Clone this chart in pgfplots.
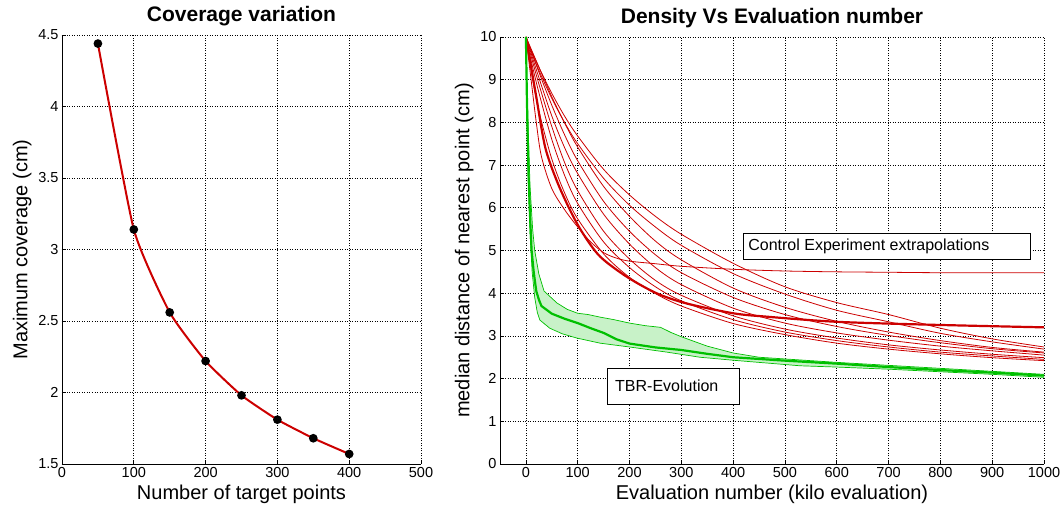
\documentclass[border=0pt]{standalone}
\usepackage{fontspec}
\setmainfont{Liberation Sans}
\usepackage{pgfplots}
\pgfplotsset{compat=1.18}
\definecolor{cred}{RGB}{204,0,0}
\definecolor{cgreen}{RGB}{0,192,0}
\definecolor{cfill}{RGB}{200,242,200}
\pgfplotsset{mystyle/.style={
  scale only axis,
  axis x line*=bottom, axis y line*=left,
  axis line style={-, black, line width=0.8pt},
  tick align=inside, major tick length=4pt,
  tick style={black, line width=0.6pt},
  grid=major,
  major grid style={black, line width=0.6pt, dash pattern=on 1pt off 1.5pt},
  tick label style={font=\fontsize{14.5}{16}\selectfont},
  label style={font=\fontsize{20}{22}\selectfont},
  title style={font=\bfseries\fontsize{21}{24}\selectfont},
  /pgf/number format/assume math mode=true,
  /pgf/number format/1000 sep={},
  scaled ticks=false,
}}
\begin{document}
\begin{tikzpicture}
\useasboundingbox (0,0) rectangle (1063pt,518pt);
\begin{axis}[mystyle, at={(62pt,54pt)}, anchor=south west,
  width=359pt, height=429pt,
  xmin=0, xmax=500, ymin=1.5, ymax=4.5,
  xtick={0,100,200,300,400,500}, ytick={1.5,2,2.5,3,3.5,4,4.5},
  title={Coverage variation},
  xlabel={Number of target points},
  ylabel={Maximum coverage (cm)}]
\addplot[cred, line width=2pt, smooth, tension=0.3, mark=*, mark size=3.3pt, mark options={draw=black, fill=black}]
 coordinates {(50,4.44) (100,3.14) (150,2.56) (200,2.22) (250,1.98) (300,1.81) (350,1.68) (400,1.57)};
\end{axis}
\begin{axis}[mystyle, at={(500pt,54pt)}, anchor=south west,
  width=544pt, height=427pt,
  xmin=-50, xmax=1000, ymin=0, ymax=10,
  xtick={0,100,200,300,400,500,600,700,800,900,1000},
  ytick={0,1,2,3,4,5,6,7,8,9,10},
  title={Density Vs Evaluation number},
  xlabel={Evaluation number (kilo evaluation)},
  ylabel={median distance of nearest point (cm)}]
% thin red extrapolations
\addplot[cred, line width=0.8pt, smooth] coordinates {(0,10) (10,9.70) (25,9.29) (50,8.68) (75,8.14) (100,7.68) (150,6.90) (200,6.30) (250,5.80) (300,5.38) (400,4.70) (500,4.15) (600,3.78) (700,3.50) (800,3.18) (900,2.93) (1000,2.74)};
\addplot[cred, line width=0.8pt, smooth] coordinates {(0,10) (10,9.67) (25,9.22) (50,8.56) (75,7.99) (100,7.50) (150,6.69) (200,6.06) (250,5.55) (300,5.12) (400,4.46) (500,3.98) (600,3.60) (700,3.33) (800,3.06) (900,2.86) (1000,2.69)};
\addplot[cred, line width=0.8pt, smooth] coordinates {(0,10) (10,9.72) (25,9.30) (50,8.60) (75,7.98) (100,7.42) (150,6.50) (200,5.80) (250,5.22) (300,4.78) (400,4.12) (500,3.67) (600,3.34) (700,3.09) (800,2.89) (900,2.73) (1000,2.62)};
\addplot[cred, line width=0.8pt, smooth] coordinates {(0,10) (10,9.68) (25,9.18) (50,8.40) (75,7.70) (100,7.10) (150,6.15) (200,5.45) (250,4.90) (300,4.48) (400,3.90) (500,3.50) (600,3.22) (700,3.01) (800,2.84) (900,2.70) (1000,2.60)};
\addplot[cred, line width=0.8pt, smooth] coordinates {(0,10) (10,9.62) (25,9.05) (50,8.15) (75,7.40) (100,6.80) (150,5.85) (200,5.15) (250,4.60) (300,4.20) (400,3.65) (500,3.30) (600,3.07) (700,2.90) (800,2.76) (900,2.65) (1000,2.55)};
\addplot[cred, line width=0.8pt, smooth] coordinates {(0,10) (10,9.55) (25,8.90) (50,7.90) (75,7.05) (100,6.40) (150,5.45) (200,4.80) (250,4.30) (300,3.95) (400,3.47) (500,3.16) (600,2.95) (700,2.79) (800,2.67) (900,2.57) (1000,2.49)};
\addplot[cred, line width=0.8pt, smooth] coordinates {(0,10) (10,9.45) (25,8.70) (50,7.60) (75,6.75) (100,6.10) (150,5.20) (200,4.60) (250,4.15) (300,3.82) (400,3.38) (500,3.09) (600,2.89) (700,2.74) (800,2.62) (900,2.53) (1000,2.45)};
\addplot[cred, line width=0.8pt, smooth] coordinates {(0,10) (10,9.21) (25,8.27) (50,7.14) (75,6.34) (100,5.74) (150,4.92) (200,4.37) (250,3.99) (300,3.70) (400,3.29) (500,3.03) (600,2.83) (700,2.69) (800,2.58) (900,2.49) (1000,2.42)};
% flattening extrapolation
\addplot[cred, line width=0.8pt, smooth] coordinates {(0,10) (10,9.0) (20,8.0) (30,7.2) (50,6.45) (75,5.95) (100,5.55) (125,5.2) (150,4.95) (175,4.82) (200,4.75) (250,4.69) (300,4.63) (400,4.56) (500,4.52) (600,4.50) (700,4.49) (800,4.48) (1000,4.48)};
% thick red
\addplot[cred, line width=2.2pt, smooth] coordinates {(0,10) (10,9.3) (20,8.6) (37,7.43) (59,6.65) (85,5.95) (110,5.4) (143,4.86) (194,4.39) (252,4.0) (310,3.76) (400,3.53) (465,3.45) (600,3.33) (786,3.26) (1000,3.2)};
% green band
\addplot[fill=cfill, draw=none] coordinates {(0,10) (4,8) (8,6.5) (13,5.5) (17,5.0) (25,4.45) (35,4.05) (60,3.77) (80,3.62) (100,3.53) (120,3.50) (143,3.44) (170,3.38) (200,3.3) (230,3.24) (260,3.2) (280,3.08) (300,2.98) (350,2.76) (400,2.6) (450,2.5) (500,2.46) (600,2.38) (700,2.31) (800,2.24) (900,2.17) (1000,2.1)
 (1000,2.03) (900,2.1) (800,2.16) (700,2.22) (600,2.27) (529,2.3) (400,2.43) (336,2.5) (272,2.62) (200,2.74) (143,2.83) (98,2.95) (70,3.05) (46,3.18) (27,3.37) (22,3.55) (17,3.9) (12,4.5) (8,5.4) (5,6.5) (2,8) (0,10)};
\addplot[cgreen, line width=0.7pt] coordinates {(0,10) (4,8) (8,6.5) (13,5.5) (17,5.0) (25,4.45) (35,4.05) (60,3.77) (80,3.62) (100,3.53) (120,3.50) (143,3.44) (170,3.38) (200,3.3) (230,3.24) (260,3.2) (280,3.08) (300,2.98) (350,2.76) (400,2.6) (450,2.5) (500,2.46) (600,2.38) (700,2.31) (800,2.24) (900,2.17) (1000,2.1)};
\addplot[cgreen, line width=0.7pt] coordinates {(0,10) (2,8) (5,6.5) (8,5.4) (12,4.5) (17,3.9) (22,3.55) (27,3.37) (46,3.18) (70,3.05) (98,2.95) (143,2.83) (200,2.74) (272,2.62) (336,2.5) (400,2.43) (529,2.3) (600,2.27) (700,2.22) (800,2.16) (900,2.1) (1000,2.03)};
\addplot[cgreen, line width=2.2pt] coordinates {(0,10) (2,8.5) (5,6.8) (8,5.8) (11,5.0) (15,4.5) (20,4.05) (25,3.85) (30,3.7) (50,3.52) (75,3.4) (100,3.3) (125,3.18) (150,3.07) (175,2.92) (200,2.82) (250,2.73) (300,2.67) (350,2.58) (400,2.5) (500,2.42) (600,2.35) (700,2.27) (800,2.2) (900,2.14) (1000,2.07)};
% annotation boxes
\draw[black, line width=0.8pt, fill=white] (axis cs:419,4.78) rectangle (axis cs:973,5.41);
\node[anchor=west, font=\fontsize{16}{18}\selectfont, inner sep=0pt] at (axis cs:429,5.095) {Control Experiment extrapolations};
\draw[black, line width=0.8pt, fill=white] (axis cs:157,1.405) rectangle (axis cs:412,2.24);
\node[anchor=west, font=\fontsize{16}{18}\selectfont, inner sep=0pt] at (axis cs:172,1.82) {TBR-Evolution};
\end{axis}
\end{tikzpicture}
\end{document}
